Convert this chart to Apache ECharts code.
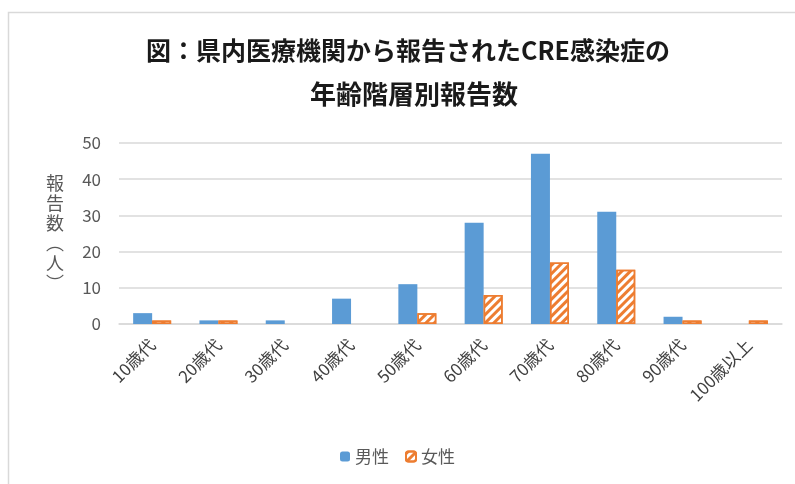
<!DOCTYPE html>
<html><head><meta charset="utf-8">
<script src="https://cdn.jsdelivr.net/npm/echarts@6/dist/echarts.min.js"></script>
<style>html,body{margin:0;padding:0;background:#fff}#c{width:795px;height:484px}</style>
</head><body><div id="c"></div>
<script>
const categories = ['10歳代','20歳代','30歳代','40歳代','50歳代','60歳代','70歳代','80歳代','90歳代','100歳以上'];
const male = [3, 1, 1, 7, 11, 28, 47, 31, 2, 0];
const female = [1, 1, 0, 0, 3, 8, 17, 15, 1, 1];
const seriesNames = ['男性', '女性'];
const titleLine1 = '図：県内医療機関から報告されたCRE感染症の';
const titleLine2 = '年齢階層別報告数';
const yName = '報\n告\n数\n︵\n人\n︶';

const font = '"Noto Sans CJK JP", "Noto Sans", sans-serif';
const chart = echarts.init(document.getElementById('c'), null, {renderer: 'canvas'});
chart.setOption({
  animation: false,
  textStyle: {fontFamily: font},
  graphic: [{
    type: 'rect', left: 6, top: 10, silent: true,
    shape: {width: 900, height: 900},
    style: {fill: 'none', stroke: '#d9d9d9', lineWidth: 1.5}
  }],
  title: [{
    text: titleLine1, left: 403, textAlign: 'center', top: 33,
    textStyle: {fontFamily: font, fontSize: 25, fontWeight: 'bold', color: '#1a1a1a'}
  }, {
    text: titleLine2, left: 409, textAlign: 'center', top: 76,
    textStyle: {fontFamily: font, fontSize: 26, fontWeight: 'bold', color: '#1a1a1a'}
  }],
  legend: {
    data: seriesNames, bottom: 14, left: 'center', itemWidth: 10, itemHeight: 10, itemGap: 16,
    textStyle: {fontFamily: font, fontSize: 17, color: '#595959'}
  },
  grid: {left: 119, right: 13, top: 143, bottom: 160, containLabel: false},
  xAxis: {
    type: 'category', data: categories,
    axisLine: {lineStyle: {color: '#d9d9d9', width: 1.5}},
    axisTick: {show: false},
    axisLabel: {rotate: 45, margin: 18, fontSize: 17, color: '#404040', fontFamily: font, interval: 0}
  },
  yAxis: {
    type: 'value', min: 0, max: 50, interval: 10,
    name: yName, nameLocation: 'middle', nameRotate: 0, nameGap: 55,
    nameTextStyle: {fontSize: 18, color: '#595959', lineHeight: 20, fontFamily: font},
    axisLine: {show: false}, axisTick: {show: false},
    axisLabel: {fontSize: 17, color: '#595959', margin: 18, fontFamily: font},
    splitLine: {lineStyle: {color: '#d9d9d9', width: 1.5}}
  },
  series: [{
    name: seriesNames[0], type: 'bar', data: male, barWidth: 19, barGap: '0%',
    itemStyle: {color: '#5B9BD5'}
  }, {
    name: seriesNames[1], type: 'bar', barWidth: 19,
    data: female.map(v => v === 0 ? {value: v, itemStyle: {borderWidth: 0}} : v),
    itemStyle: {
      color: '#ffffff', borderColor: '#ED7D31', borderWidth: 1.5,
      decal: {symbol: 'rect', symbolSize: 1, color: '#ED7D31', dashArrayX: [1, 0], dashArrayY: [3, 3], rotation: -Math.PI / 4}
    }
  }]
});
</script></body></html>
